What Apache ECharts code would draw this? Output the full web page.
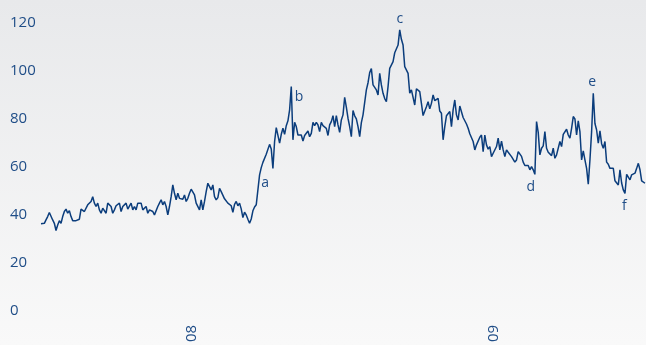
<!DOCTYPE html>
<html>
<head>
<meta charset="utf-8">
<script src="https://cdn.jsdelivr.net/npm/echarts@6/dist/echarts.min.js"></script>
<style>
  html, body { margin: 0; padding: 0; }
  #chart { width: 646px; height: 345px; }
</style>
</head>
<body>
<div id="chart"></div>
<script>
// Series values (index price), Jul 2007 - Jun 2009
const valuesPart1 = [36.3,36.3,36.5,37.9,39.3,41.0,40.4,37.9,36.5,33.5,35.8,37.6,36.5,39.3,41.4,42.4,40.7,41.8,39.3,37.6,38.2,37.6,37.9,38.2,42.4,43.1,41.4,41.0,44.2,44.9,45.6,47.6,44.9,43.5,44.9,42.1,40.7,42.8,43.5,40.7,44.9,44.2,43.5,40.7,42.1,43.8,43.5,44.9,41.4,43.5,43.2,44.9,42.4,42.8,44.9,42.1,43.5,42.1,44.9,44.2,44.9,42.1,41.4,43.5,40.7,42.1,42.8,41.4,40.0,39.3,43.5,44.9,46.3,44.2,45.6,43.5,40.0,43.5,47.6,52.5,49.0,46.3,49.0,46.9,46.3,46.5,48.3,45.6,46.9,49.0,50.7,50.4,48.3,44.9];
const valuesPart2 = [44.2,42.1,46.3,42.1,45.6,49.7,53.2,51.8,50.4,52.5,47.6,46.3,47.2,51.1,49.7,49.0,46.7,46.9,44.9,45.6,43.8,41.1,44.4,45.6,43.8,44.9,42.5,38.9,41.1,40.0,38.2,36.5,38.3,41.7,43.3,44.2,44.4,56.7,59.7,61.9,61.9,65.3,65.0,69.4,67.5,59.4,70.6,76.4,76.1,69.9,73.6,76.1,73.6,77.2,79.2,83.8,93.5,71.3,78.6,76.8,73.3,72.6,73.3,70.8,73.1,73.6,75.0,72.6,74.0,78.6,77.2,78.6,77.5,74.7,78.6,77.2,76.8,76.1,73.1,77.5,78.9,81.4,76.8,81.4,77.5,74.4,79.6,81.7];
const valuesPart3 = [89.0,84.9,80.3,76.8,72.6,83.5,81.3,80.0,76.8,72.6,78.5,81.7,81.0,92.1,95.1,99.3,101.0,94.2,94.2,92.1,90.0,99.0,94.2,90.7,88.5,87.2,93.5,101.1,100.4,103.9,107.6,107.6,110.8,117.1,113.2,110.8,101.8,101.8,99.0,90.7,92.1,89.0,85.8,92.6,92.1,91.4,86.5,81.4,81.7,85.1,87.2,84.2,86.5,90.0,87.6,87.9,88.6,83.3,82.4,71.3,76.8,81.3,81.0,83.1,76.8,83.8,87.9,81.7,79.6,85.4,84.9,80.6,81.0,77.9,76.1,73.8,74.0,70.6,67.1,69.2,68.5,72.4,73.3,66.4,73.3,69.2,67.4,68.5,64.3,65.7];
const valuesPart4 = [66.3,68.5,72.0,67.1,70.8,67.1,64.3,67.1,66.1,66.7,64.3,64.7,62.0,62.9,66.4,67.1,64.4,62.0,60.6,60.8,60.6,58.8,60.1,58.8,56.9,78.9,74.4,65.0,67.8,68.8,74.7,67.8,66.1,66.4,64.7,67.8,63.6,65.0,64.3,70.6,68.5,73.6,74.4,75.7,73.3,72.0,76.1,81.0,80.0,73.3,79.2,74.7,62.9,66.7,62.9,59.4,52.8,62.9,74.7,90.7,78.1,75.4,69.9,75.0,69.7,67.8,70.6,62.0,61.1,59.4,58.8,59.4,54.2,54.6,52.5,58.8,53.3,50.4,49.0,56.9,57.4,54.6,56.7,56.7,57.4,59.4,61.5,58.8,54.2,55.0,53.2];

// Tick labels of the axes
const xTickDates = ['2008-01-01', '2009-01-01'];
const xTickLabels = ['08', '09'];
const yTickLabels = ['0', '20', '40', '60', '80', '100', '120'];

// Annotated points: letter and the index of the observation it marks
const annotLetters = ['a', 'b', 'c', 'd', 'e', 'f'];
const annotIndex = [131, 150, 215, 296, 331, 350];

// ---------------------------------------------------------------
const values = valuesPart1.concat(valuesPart2, valuesPart3, valuesPart4);
const startTs = Date.UTC(2007, 6, 2);
const stepMs = 2.023 * 86400000; // sampling interval of the traced series
const dates = values.map((_, i) => startTs + i * stepMs);
const xTickTs = xTickDates.map(d => Date.parse(d + 'T00:00:00Z'));

const labelOffsets = {a: [5.5, 8], b: [7.7, 10.4], c: [0, -10.5], d: [-4, 13], e: [-1, -11.6], f: [-0.6, 12.4]};

const blue = '#1f4d87';
const chart = echarts.init(document.getElementById('chart'), null, {renderer: 'canvas'});
chart.setOption({
  animation: false,
  backgroundColor: {
    type: 'linear', x: 0, y: 0, x2: 0, y2: 1,
    colorStops: [{offset: 0, color: '#e8e9eb'}, {offset: 1, color: '#f9f9f9'}]
  },
  textStyle: {fontFamily: 'Open Sans'},
  grid: {left: 41, right: 1, top: 23, bottom: 34, containLabel: false},
  xAxis: {
    type: 'value',
    min: dates[0],
    max: dates[dates.length - 1],
    axisLine: {show: false},
    axisTick: {show: false},
    splitLine: {show: false},
    axisLabel: {
      customValues: xTickTs,
      rotate: 90,
      margin: 14,
      color: blue,
      fontSize: 15,
      fontFamily: 'Open Sans',
      formatter: function (v) {
        const k = xTickTs.indexOf(v);
        return k >= 0 ? xTickLabels[k] : '';
      }
    }
  },
  yAxis: {
    type: 'value',
    min: 0, max: 120, interval: 20,
    axisLine: {show: false},
    axisTick: {show: false},
    splitLine: {show: false},
    axisLabel: {
      align: 'left',
      margin: 31,
      color: blue,
      fontSize: 15,
      fontFamily: 'Open Sans',
      formatter: function (v) { return yTickLabels[Math.round(v / 20)]; }
    }
  },
  series: [{
    type: 'line',
    data: values.map((v, i) => [dates[i], v]),
    showSymbol: false,
    lineStyle: {color: '#0b3d7c', width: 1.5},
    itemStyle: {color: '#0b3d7c'},
    markPoint: {
      symbol: 'circle',
      symbolSize: 1,
      itemStyle: {color: 'rgba(0,0,0,0)'},
      label: {show: true, color: blue, fontSize: 14, fontFamily: 'Open Sans'},
      data: annotLetters.map((L, k) => ({
        coord: [dates[annotIndex[k]], values[annotIndex[k]]],
        label: {formatter: L, offset: labelOffsets[L], position: 'inside'}
      }))
    }
  }]
});
</script>
</body>
</html>
